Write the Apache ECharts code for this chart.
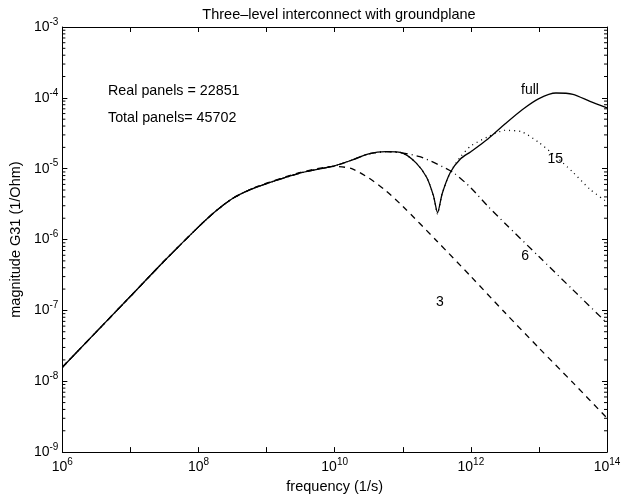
<!DOCTYPE html>
<html>
<head>
<meta charset="utf-8">
<script src="https://cdn.jsdelivr.net/npm/echarts@6/dist/echarts.min.js"></script>
<style>html,body{margin:0;padding:0;background:#fff}#c{width:627px;height:499px}</style>
</head>
<body>
<div id="c"></div>
<script>
// ---- data (frequency in 1/s, magnitude G31 in 1/Ohm) ----
var fullF = [1e6, 1e7, 3.16e7, 1e8, 1.78e8, 3.16e8, 5.62e8, 1e9, 3.16e9, 1e10, 1.78e10, 3.16e10, 5.62e10, 1e11, 1.58e11, 2.24e11, 2.82e11, 3.24e11, 3.80e11, 5.01e11, 7.08e11, 1e12, 1.78e12, 3.16e12, 5.62e12, 1e13, 1.78e13, 3.16e13, 5.62e13, 1e14];
var fullG = [1.58e-8, 1.58e-7, 5.01e-7, 1.51e-6, 2.51e-6, 3.80e-6, 5.01e-6, 6.17e-6, 8.71e-6, 1.10e-5, 1.32e-5, 1.62e-5, 1.74e-5, 1.66e-5, 1.20e-5, 7.59e-6, 4.17e-6, 2.40e-6, 4.47e-6, 8.91e-6, 1.38e-5, 1.74e-5, 2.63e-5, 4.27e-5, 6.76e-5, 9.77e-5, 1.17e-4, 1.12e-4, 8.91e-5, 7.24e-5];

var f15F = [1e6, 1e7, 3.16e7, 1e8, 1.78e8, 3.16e8, 5.62e8, 1e9, 3.16e9, 1e10, 1.78e10, 3.16e10, 5.62e10, 1e11, 1.58e11, 2.24e11, 2.82e11, 3.24e11, 3.80e11, 5.01e11, 7.08e11, 1e12, 1.78e12, 3.16e12, 5.62e12, 1e13, 1.78e13, 3.16e13, 5.62e13, 1e14];
var f15G = [1.58e-8, 1.58e-7, 5.01e-7, 1.51e-6, 2.51e-6, 3.80e-6, 5.01e-6, 6.17e-6, 8.71e-6, 1.10e-5, 1.32e-5, 1.62e-5, 1.74e-5, 1.66e-5, 1.20e-5, 7.59e-6, 4.17e-6, 2.30e-6, 4.47e-6, 8.91e-6, 1.48e-5, 2.09e-5, 2.82e-5, 3.47e-5, 3.31e-5, 2.34e-5, 1.48e-5, 8.91e-6, 5.13e-6, 3.39e-6];

var f6F = [1e6, 1e7, 3.16e7, 1e8, 1.78e8, 3.16e8, 5.62e8, 1e9, 3.16e9, 1e10, 1.78e10, 3.16e10, 5.62e10, 1e11, 1.78e11, 3.16e11, 5.62e11, 1e12, 1.78e12, 3.16e12, 1e13, 3.16e13, 1e14];
var f6G = [1.58e-8, 1.58e-7, 5.01e-7, 1.51e-6, 2.51e-6, 3.80e-6, 5.01e-6, 6.17e-6, 8.71e-6, 1.10e-5, 1.32e-5, 1.62e-5, 1.74e-5, 1.66e-5, 1.48e-5, 1.17e-5, 8.71e-6, 5.37e-6, 2.95e-6, 1.70e-6, 5.75e-7, 1.95e-7, 6.61e-8];

var f3F = [1e6, 1e7, 3.16e7, 1e8, 1.78e8, 3.16e8, 5.62e8, 1e9, 3.16e9, 1e10, 1.78e10, 3.16e10, 5.62e10, 1e11, 3.16e11, 1e12, 3.16e12, 1e13, 3.16e13, 1e14];
var f3G = [1.58e-8, 1.58e-7, 5.01e-7, 1.51e-6, 2.51e-6, 3.80e-6, 5.05e-6, 6.25e-6, 8.85e-6, 1.08e-5, 1.00e-5, 7.41e-6, 4.90e-6, 2.95e-6, 9.55e-7, 3.02e-7, 9.33e-8, 2.95e-8, 9.55e-9, 3.02e-9];

// curve labels: [frequency, magnitude, text]
var curveLabels = [[7.4e12, 1.3e-4, 'full'], [1.74e13, 1.35e-5, '15'], [6.3e12, 5.8e-7, '6'], [3.5e11, 1.3e-7, '3']];

var titleText = 'Three\u2013level interconnect with groundplane';
var xName = 'frequency (1/s)';
var yName = 'magnitude G31 (1/Ohm)';
var notes = ['Real panels = 22851', 'Total panels= 45702'];

var xMin = 1e6, xMax = 1e14, yMin = 1e-9, yMax = 1e-3;
var minorMult = [2, 3, 4, 5, 6, 7, 8, 9];
var yDecades = [1e-9, 1e-8, 1e-7, 1e-6, 1e-5, 1e-4];

function zip(a, b) { return a.map(function (v, i) { return [v, b[i]]; }); }
var minorData = [];
yDecades.forEach(function (d) { minorMult.forEach(function (m) { minorData.push([xMin, m * d]); }); });

var FONT = '"Liberation Sans", Arial, Helvetica, sans-serif';
function expOf(v) { return Math.round(Math.log(v) / Math.LN10); }
function expLabel(v) { return '{b|10}{s|' + expOf(v) + '}'; }
function expLabelEven(v) { var e = expOf(v); return (e % 2 === 0) ? '{b|10}{s|' + e + '}' : ''; }
var rich = {
  b: { fontSize: 14, fontFamily: FONT, color: '#000' },
  s: { fontSize: 10, fontFamily: FONT, color: '#000', padding: [0, 0, 10, 0] }
};

var chart = echarts.init(document.getElementById('c'), null, { renderer: 'canvas' });
var line = function (name, data, type, z) {
  return {
    name: name, type: 'line', data: data, showSymbol: false, symbol: 'none',
    smooth: 0.25, z: z, xAxisIndex: 0, yAxisIndex: 0,
    lineStyle: { color: '#000', width: 1.3, type: type }, animation: false
  };
};
chart.setOption({
  animation: false,
  backgroundColor: '#fff',
  title: {
    text: titleText, left: 334, top: 2, textAlign: 'center',
    textStyle: { fontFamily: FONT, fontSize: 14.5, fontWeight: 'normal', color: '#000' }
  },
  grid: { left: 62, right: 20, top: 27, bottom: 45, show: false },
  graphic: [
    { type: 'text', left: 108, top: 84, style: { text: notes[0], font: '14.3px ' + FONT, fill: '#000' } },
    { type: 'text', left: 108, top: 111, style: { text: notes[1], font: '14.3px ' + FONT, fill: '#000' } }
  ],
  xAxis: [{
    type: 'log', logBase: 10, min: xMin, max: xMax, splitNumber: 8,
    name: xName, nameLocation: 'middle', nameGap: 25,
    nameTextStyle: { fontFamily: FONT, fontSize: 14.5, color: '#000' },
    axisLine: { show: true, lineStyle: { color: '#000', width: 1 } },
    axisTick: { show: true, inside: true, length: 5, lineStyle: { color: '#000' } },
    axisLabel: { formatter: expLabelEven, rich: rich, margin: 5, color: '#000' },
    splitLine: { show: false }
  }, {
    type: 'log', logBase: 10, min: xMin, max: xMax, splitNumber: 8, position: 'top',
    axisLine: { show: true, lineStyle: { color: '#000', width: 1 } },
    axisTick: { show: true, inside: true, length: 5, lineStyle: { color: '#000' } },
    axisLabel: { show: false }, splitLine: { show: false }
  }],
  yAxis: [{
    type: 'log', logBase: 10, min: yMin, max: yMax, splitNumber: 6,
    name: yName, nameLocation: 'middle', nameGap: 34,
    nameTextStyle: { fontFamily: FONT, fontSize: 14.5, color: '#000' },
    axisLine: { show: true, lineStyle: { color: '#000', width: 1 } },
    axisTick: { show: true, inside: true, length: 5, lineStyle: { color: '#000' } },
    axisLabel: { formatter: expLabel, rich: rich, margin: 4, color: '#000' },
    splitLine: { show: false }
  }, {
    type: 'log', logBase: 10, min: yMin, max: yMax, splitNumber: 6, position: 'right',
    axisLine: { show: true, lineStyle: { color: '#000', width: 1 } },
    axisTick: { show: true, inside: true, length: 5, lineStyle: { color: '#000' } },
    axisLabel: { show: false }, splitLine: { show: false }
  }],
  series: [
    line('3', zip(f3F, f3G), [6, 5], 2),
    line('6', zip(f6F, f6G), [7, 4, 1, 4], 2),
    line('15', zip(f15F, f15G), [1, 4], 2),
    line('full', zip(fullF, fullG), 'solid', 3),
    {
      type: 'custom', name: 'minorTicks', data: minorData, z: 4, silent: true,
      renderItem: function (params, api) {
        var p = api.coord([api.value(0), api.value(1)]);
        var cs = params.coordSys;
        return {
          type: 'group', children: [
            { type: 'line', shape: { x1: cs.x, y1: p[1], x2: cs.x + 3, y2: p[1] }, style: { stroke: '#000', lineWidth: 1 } },
            { type: 'line', shape: { x1: cs.x + cs.width, y1: p[1], x2: cs.x + cs.width - 3, y2: p[1] }, style: { stroke: '#000', lineWidth: 1 } }
          ]
        };
      }
    },
    {
      type: 'scatter', name: 'labels', symbolSize: 0, z: 5, silent: true,
      itemStyle: { color: '#000', opacity: 1 },
      data: curveLabels.map(function (d) { return { value: [d[0], d[1]], name: d[2] }; }),
      label: {
        show: true, position: 'inside', formatter: function (p) { return p.name; },
        fontFamily: FONT, fontSize: 14, color: '#000', textBorderWidth: 0, opacity: 1
      }
    }
  ]
});
</script>
</body>
</html>
